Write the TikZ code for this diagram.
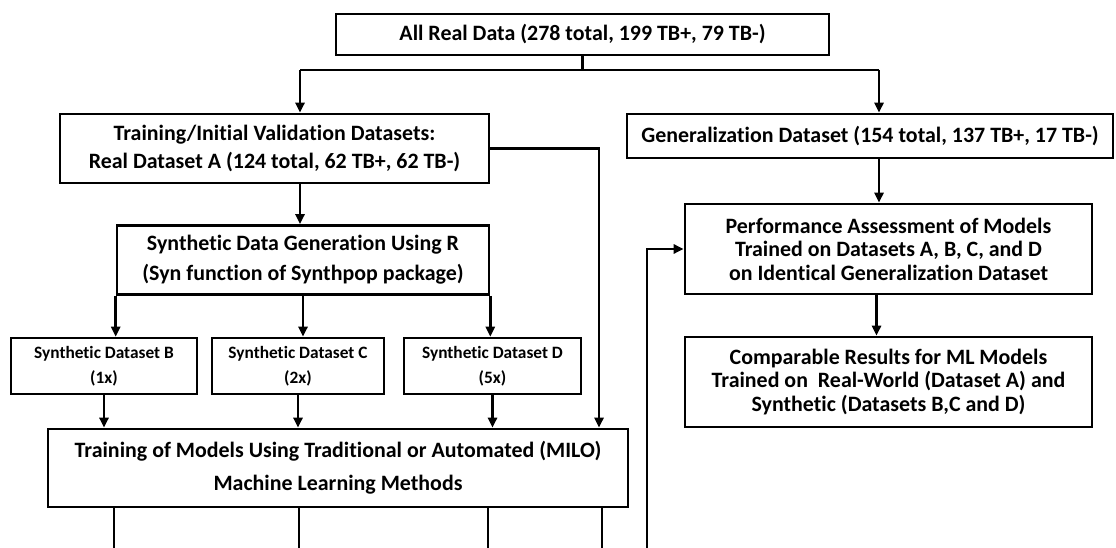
\documentclass[tikz,border=0pt]{standalone}
\usepackage{fontspec}
\setmainfont{Carlito}[Ligatures=NoCommon]
\usetikzlibrary{arrows.meta}

\begin{document}
\begin{tikzpicture}[x=1bp, y=-1bp, line width=2.6bp,
  box/.style={draw, line width=2.6bp, inner sep=0pt, align=center,
    font=\bfseries\fontsize{22}{28}\selectfont},
  smallbox/.style={box, font=\bfseries\fontsize{17.4}{25}\selectfont},
  conn/.style={-{Triangle[length=10bp,width=9bp]}},
  link/.style={-}]
\useasboundingbox (0,0) rectangle (1116,548);

% boxes
\node[box, minimum width=493bp, minimum height=41bp] (top) at (582.5,34.5)
  {All Real Data (278 total, 199 TB+, 79 TB-)};
\node[box, minimum width=429bp, minimum height=69bp] (A) at (274.5,148.5)
  {Training/Initial Validation Datasets:\\Real Dataset A (124 total, 62 TB+, 62 TB-)};
\node[box, minimum width=486bp, minimum height=44bp] (gen) at (870,136)
  {Generalization Dataset (154 total, 137 TB+, 17 TB-)};
\node[box, minimum width=372bp, minimum height=69bp, font=\bfseries\fontsize{22}{30}\selectfont] (syn) at (303,260)
  {Synthetic Data Generation Using R\\(Syn function of Synthpop package)};
\node[smallbox, minimum width=186bp, minimum height=56bp] (B) at (104,366)
  {Synthetic Dataset B\\(1x)};
\node[smallbox, minimum width=172bp, minimum height=56bp] (C) at (298,366)
  {Synthetic Dataset C\\(2x)};
\node[smallbox, minimum width=177bp, minimum height=56bp] (D) at (492.5,366)
  {Synthetic Dataset D\\(5x)};
\node[box, minimum width=580bp, minimum height=78bp, font=\bfseries\fontsize{22}{33}\selectfont] (train) at (338,468)
  {Training of Models Using Traditional or Automated (MILO)\\Machine Learning Methods};
\node[box, minimum width=407bp, minimum height=90bp, font=\bfseries\fontsize{22}{23.5}\selectfont] (perf) at (888.5,249)
  {Performance Assessment of Models\\Trained on Datasets A, B, C, and D\\on Identical Generalization Dataset};
\node[box, minimum width=407bp, minimum height=90bp, font=\bfseries\fontsize{22}{23.5}\selectfont] (res) at (888.5,382)
  {Comparable Results for ML Models\\Trained on\ \ Real-World (Dataset A) and\\Synthetic (Datasets B,C and D)};

% junction points and free ends
\coordinate (j) at (300,70);
\coordinate (k) at (879,70);
\coordinate (q) at (599,148.5);
\coordinate (e1) at (114,548);
\coordinate (e2) at (299,548);
\coordinate (e3) at (488,548);
\coordinate (e4) at (602,548);
\coordinate (e5) at (647,548);
\coordinate (p) at (647,249);

% split of the real data
\draw[link] (top.south) -- (top.south |- j);
\draw[link] (j) -- (k);
\draw[conn] (j) -- (j |- A.north);
\draw[conn] (k) -- (k |- gen.north);

% dataset A into generation and training
\draw[conn] (j |- A.south) -- (j |- syn.north);
\draw[conn] (A.east) -- (q) -- (q |- train.north);

% synthetic datasets
\draw[conn] (syn.south west) -- (syn.south west |- B.north);
\draw[conn] (syn.south) -- (syn.south |- C.north);
\draw[conn] (syn.south east) -- (syn.south east |- D.north);
\draw[conn] (B.south) -- (B.south |- train.north);
\draw[conn] (C.south) -- (C.south |- train.north);
\draw[conn] (D.south) -- (D.south |- train.north);

% trained models leaving the training box
\draw[link] (e1 |- train.south) -- (e1);
\draw[link] (e2 |- train.south) -- (e2);
\draw[link] (e3 |- train.south) -- (e3);
\draw[link] (e4 |- train.south) -- (e4);

% assessment path
\draw[conn] (e5) -- (p) -- (perf.west);
\draw[conn] (k |- gen.south) -- (k |- perf.north);
\draw[conn] ([xshift=-12bp]perf.south) -- ([xshift=-12bp]perf.south |- res.north);
\end{tikzpicture}
\end{document}
